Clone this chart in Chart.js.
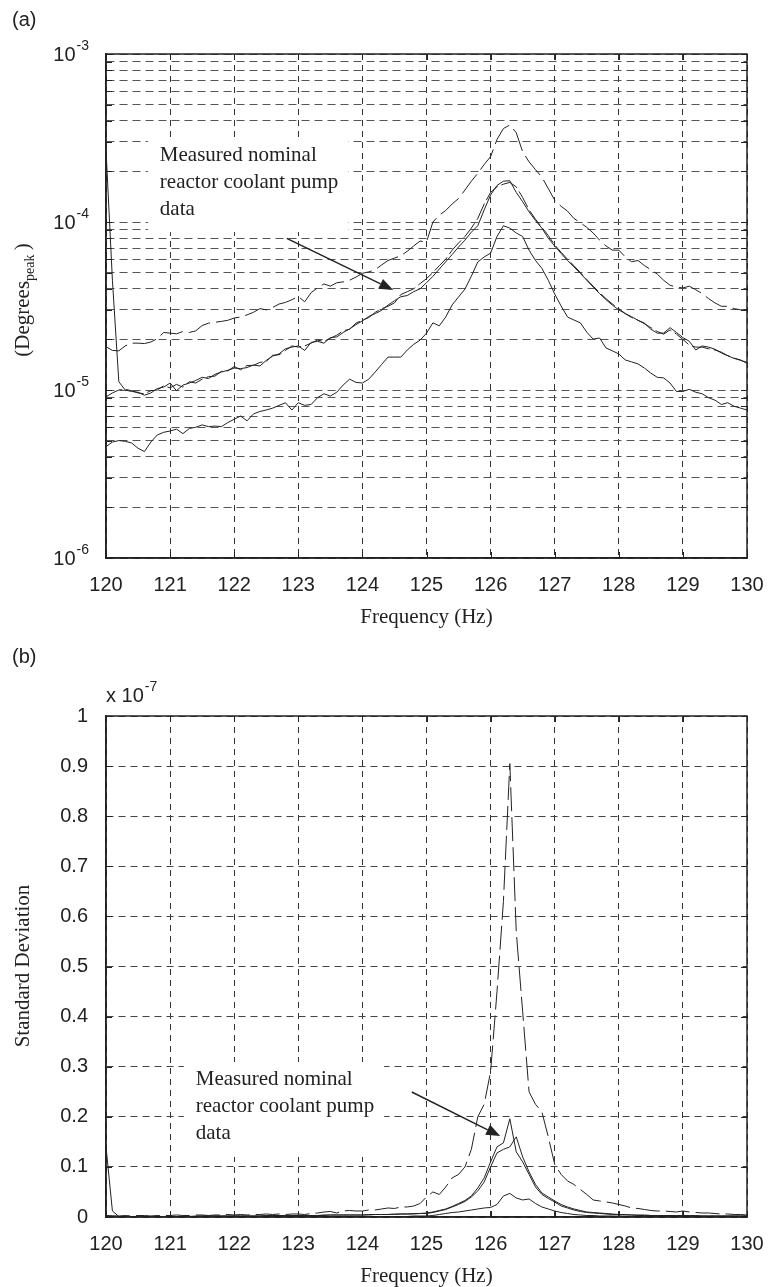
<!DOCTYPE html>
<html>
<head>
<meta charset="utf-8">
<script src="https://cdn.jsdelivr.net/npm/chart.js"></script>
<style>
  body { margin: 0; background: #fff; }
  #wrap { position: relative; width: 768px; height: 1287px; }
  canvas { position: absolute; left: 0; }
</style>
</head>
<body>
<div id="wrap">
  <canvas id="chartA" width="768" height="640" style="top:0"></canvas>
  <canvas id="chartB" width="768" height="647" style="top:640px"></canvas>
</div>
<script>
// frequency samples (Hz)
const freq = [
  120.0, 120.1, 120.2, 120.3, 120.4, 120.5, 120.6, 120.7, 120.8, 120.9,
  121.0, 121.1, 121.2, 121.3, 121.4, 121.5, 121.6, 121.7, 121.8, 121.9,
  122.0, 122.1, 122.2, 122.3, 122.4, 122.5, 122.6, 122.7, 122.8, 122.9,
  123.0, 123.1, 123.2, 123.3, 123.4, 123.5, 123.6, 123.7, 123.8, 123.9,
  124.0, 124.1, 124.2, 124.3, 124.4, 124.5, 124.6, 124.7, 124.8, 124.9,
  125.0, 125.1, 125.2, 125.3, 125.4, 125.5, 125.6, 125.7, 125.8, 125.9,
  126.0, 126.1, 126.2, 126.3, 126.4, 126.5, 126.6, 126.7, 126.8, 126.9,
  127.0, 127.1, 127.2, 127.3, 127.4, 127.5, 127.6, 127.7, 127.8, 127.9,
  128.0, 128.1, 128.2, 128.3, 128.4, 128.5, 128.6, 128.7, 128.8, 128.9,
  129.0, 129.1, 129.2, 129.3, 129.4, 129.5, 129.6, 129.7, 129.8, 129.9,
  130.0
];

// (a) amplitude, in micro-degrees peak
const ampDashed = [
  18.1, 17.2, 17.1, 18.3, 19.0, 19.0, 18.9, 19.3, 20.2, 22.0,
  21.8, 21.6, 22.3, 22.0, 22.5, 24.2, 25.0, 25.3, 25.6, 26.0,
  26.8, 27.2, 28.0, 29.0, 30.5, 30.0, 31.0, 32.5, 33.2, 34.5,
  36.0, 33.5, 38.0, 40.5, 42.8, 41.5, 43.5, 44.0, 45.0, 47.0,
  49.5, 50.5, 52.0, 55.5, 59.0, 61.0, 63.0, 67.0, 72.0, 77.0,
  76.0, 100, 110, 117, 128, 138, 155, 175, 195, 220,
  245, 310, 360, 378, 340, 262, 228, 205, 185, 158,
  135, 124, 116, 105, 99, 93, 86, 78, 72, 68,
  68, 62, 58, 59, 55, 52, 49, 45, 42, 41,
  40.5, 41.5, 39.5, 37.5, 35, 33, 31.5, 31.5, 30.5, 30,
  30
];
const ampMeasured = [
  270, 45, 11.2, 10.0, 9.8, 9.7, 9.3, 9.6, 10.2, 10.4,
  11.0, 9.9, 10.7, 11.0, 11.4, 11.9, 11.7, 12.4, 12.8, 13.1,
  13.5, 13.4, 13.6, 14.1, 13.9, 15.0, 15.9, 16.4, 17.6, 18.0,
  18.3, 17.2, 19.2, 19.5, 19.0, 20.5, 20.7, 22.0, 23.1, 24.5,
  25.8, 27.4, 28.5, 29.8, 32.0, 34.0, 35.9, 36.5, 38.5, 40.0,
  43.5, 47.5, 52.5, 58, 64, 71, 78, 87, 95, 118,
  145, 165, 175, 176, 150, 132, 115, 102, 92, 80,
  72, 65, 59, 54, 49.5, 45, 41, 37.5, 34.5, 32,
  30, 28.5, 27.3, 26.0, 25, 23.0, 21.8, 21.8, 23.5, 22.0,
  20.5, 19.5, 17.3, 18.3, 18.0, 17.5, 16.6, 16.0, 15.4, 15.1,
  14.4
];
const ampModel = [
  9.1, 9.6, 10.0, 10.1, 9.9, 9.6, 9.5, 9.9, 10.0, 10.6,
  10.3, 10.8, 10.4, 11.2, 11.0, 11.6, 12.0, 12.1, 12.9, 13.0,
  13.8, 13.2, 14.0, 14.0, 14.6, 14.8, 16.1, 16.2, 17.2, 18.3,
  18.0, 18.3, 19.0, 19.8, 19.5, 20.3, 21.2, 22.5, 23.0, 25.0,
  26.0, 27.0, 29.0, 30.5, 31.5, 33.0, 37.0, 38.5, 40.0, 43.0,
  46.0, 50.0, 55.0, 60.0, 68.0, 75.0, 82.0, 92.0, 105, 128,
  150, 162, 168, 172, 162, 140, 118, 104, 93, 83,
  73, 66, 60, 55, 50, 45.5, 41.5, 38.0, 35.0, 32.5,
  30.5, 28.5, 27.0, 26.0, 24.8, 23.5, 22.3, 21.5, 22.8, 21.5,
  20.0, 18.5, 18.0, 18.0, 17.6, 17.3, 16.8, 16.0, 15.5, 15.0,
  14.6
];
const ampLow = [
  4.6, 4.9, 5.0, 4.95, 4.84, 4.5, 4.3, 4.9, 5.4, 5.6,
  5.7, 5.85, 5.5, 5.9, 6.0, 6.2, 6.05, 6.1, 6.05, 6.4,
  6.7, 7.0, 6.55, 7.2, 7.45, 7.6, 7.8, 8.1, 8.4, 7.6,
  8.4, 8.1, 8.2, 9.0, 9.5, 9.2, 9.7, 10.7, 11.6, 11.1,
  11.0, 11.6, 12.8, 14.2, 15.7, 15.7, 15.7, 17.3, 18.7, 19.8,
  21.8, 25.1, 24.1, 27.2, 32.1, 35.8, 39.9, 47.6, 57.8, 61.9,
  65.3, 82, 95, 92, 86, 82, 68, 59, 53, 45,
  37.3, 31.6, 27.2, 26.1, 25.1, 22.1, 20.1, 20.4, 17.8, 17.1,
  16.4, 15.1, 14.7, 14.3, 13.5, 12.6, 11.9, 11.8, 11.0, 9.8,
  9.8, 10.1, 9.7, 9.5, 9.0, 8.7, 8.2, 8.4, 8.0, 7.8,
  7.6
];

// (b) standard deviation, in units of 1e-7
const sdDashed = [
  0.003, 0.002, 0.002, 0.003, 0.002, 0.003, 0.003, 0.002, 0.003, 0.003,
  0.003, 0.004, 0.003, 0.003, 0.004, 0.004, 0.003, 0.004, 0.004, 0.005,
  0.004, 0.005, 0.004, 0.005, 0.005, 0.006, 0.005, 0.006, 0.005, 0.006,
  0.006, 0.005, 0.007, 0.008, 0.010, 0.011, 0.008, 0.012, 0.013, 0.012,
  0.012, 0.014, 0.014, 0.016, 0.018, 0.017, 0.020, 0.020, 0.022, 0.027,
  0.040, 0.050, 0.045, 0.060, 0.078, 0.085, 0.100, 0.135, 0.200, 0.225,
  0.290, 0.450, 0.630, 0.905, 0.570, 0.410, 0.250, 0.225, 0.210, 0.160,
  0.105, 0.085, 0.072, 0.065, 0.055, 0.045, 0.034, 0.032, 0.030, 0.028,
  0.025, 0.022, 0.018, 0.017, 0.015, 0.013, 0.012, 0.012, 0.011, 0.010,
  0.012, 0.010, 0.009, 0.008, 0.008, 0.007, 0.006, 0.006, 0.005, 0.005,
  0.004
];
const sdMeasured = [
  0.140, 0.012, 0.001, 0.001, 0.001, 0.001, 0.001, 0.001, 0.001, 0.001,
  0.001, 0.001, 0.001, 0.001, 0.002, 0.002, 0.002, 0.002, 0.002, 0.002,
  0.002, 0.002, 0.002, 0.002, 0.002, 0.002, 0.003, 0.003, 0.003, 0.003,
  0.003, 0.003, 0.003, 0.003, 0.003, 0.004, 0.004, 0.004, 0.004, 0.004,
  0.004, 0.005, 0.005, 0.005, 0.005, 0.006, 0.006, 0.006, 0.007, 0.007,
  0.008, 0.010, 0.013, 0.016, 0.021, 0.027, 0.033, 0.042, 0.058, 0.078,
  0.110, 0.140, 0.148, 0.196, 0.130, 0.110, 0.085, 0.060, 0.045, 0.037,
  0.030, 0.022, 0.018, 0.014, 0.011, 0.009, 0.008, 0.007, 0.006, 0.005,
  0.004, 0.004, 0.004, 0.003, 0.003, 0.003, 0.003, 0.003, 0.003, 0.002,
  0.002, 0.002, 0.002, 0.002, 0.002, 0.002, 0.002, 0.002, 0.002, 0.002,
  0.002
];
const sdModel = [
  0.002, 0.002, 0.001, 0.001, 0.001, 0.001, 0.001, 0.001, 0.001, 0.001,
  0.001, 0.001, 0.001, 0.001, 0.001, 0.002, 0.002, 0.002, 0.002, 0.002,
  0.002, 0.002, 0.002, 0.002, 0.002, 0.003, 0.003, 0.003, 0.003, 0.003,
  0.003, 0.003, 0.003, 0.003, 0.004, 0.004, 0.004, 0.004, 0.004, 0.004,
  0.004, 0.004, 0.005, 0.005, 0.005, 0.005, 0.006, 0.006, 0.006, 0.007,
  0.007, 0.009, 0.012, 0.015, 0.020, 0.025, 0.031, 0.040, 0.052, 0.070,
  0.100, 0.128, 0.135, 0.140, 0.160, 0.120, 0.090, 0.065, 0.048, 0.040,
  0.032, 0.025, 0.020, 0.016, 0.013, 0.010, 0.009, 0.008, 0.007, 0.006,
  0.005, 0.005, 0.004, 0.004, 0.004, 0.003, 0.003, 0.003, 0.003, 0.003,
  0.003, 0.003, 0.003, 0.002, 0.002, 0.002, 0.002, 0.002, 0.002, 0.002,
  0.002
];
const sdLow = [
  0.001, 0.001, 0.001, 0.001, 0.001, 0.001, 0.001, 0.001, 0.001, 0.001,
  0.001, 0.001, 0.001, 0.001, 0.001, 0.001, 0.001, 0.001, 0.001, 0.001,
  0.001, 0.001, 0.001, 0.001, 0.001, 0.001, 0.001, 0.001, 0.001, 0.001,
  0.001, 0.001, 0.001, 0.001, 0.001, 0.001, 0.001, 0.001, 0.001, 0.001,
  0.001, 0.001, 0.001, 0.001, 0.001, 0.001, 0.001, 0.001, 0.002, 0.002,
  0.002, 0.003, 0.005, 0.007, 0.009, 0.010, 0.012, 0.014, 0.016, 0.018,
  0.019, 0.025, 0.042, 0.047, 0.038, 0.034, 0.036, 0.027, 0.020, 0.016,
  0.012, 0.009, 0.007, 0.005, 0.004, 0.003, 0.003, 0.002, 0.002, 0.002,
  0.001, 0.001, 0.001, 0.001, 0.001, 0.001, 0.001, 0.001, 0.001, 0.001,
  0.001, 0.001, 0.001, 0.001, 0.001, 0.001, 0.001, 0.001, 0.001, 0.001,
  0.001
];

// axis ticks
const freqTicks = [120, 121, 122, 123, 124, 125, 126, 127, 128, 129, 130];
const freqTickLabels = ['120', '121', '122', '123', '124', '125', '126', '127', '128', '129', '130'];
const decadeExps = [-6, -5, -4, -3];
const mantissas = [1, 2, 3, 4, 5, 6, 7, 8, 9];
const sdTicks = [0, 0.1, 0.2, 0.3, 0.4, 0.5, 0.6, 0.7, 0.8, 0.9, 1];
const sdTickLabels = ['0', '0.1', '0.2', '0.3', '0.4', '0.5', '0.6', '0.7', '0.8', '0.9', '1'];

const noteLines = ['Measured nominal', 'reactor coolant pump', 'data'];

const SANS = '"Liberation Sans", Arial, sans-serif';
const SERIF = '"Liberation Serif", "Times New Roman", serif';
const INK = '#222';

const logTicks = [];
decadeExps.forEach(e => mantissas.forEach(m => {
  if (e < -3 || m === 1) logTicks.push(m * Math.pow(10, e));
}));

function series(vals, scale) {
  return freq.map((f, i) => ({ x: f, y: vals[i] * scale }));
}

function lineSet(vals, scale, dash) {
  return {
    data: series(vals, scale),
    borderColor: INK,
    borderWidth: 1,
    borderDash: dash,
    pointRadius: 0,
    tension: 0,
    fill: false
  };
}

// number with a raised exponent, e.g. 10^-3
function drawPower(ctx, x, y, base, exp, align) {
  ctx.save();
  ctx.fillStyle = INK;
  ctx.textBaseline = 'middle';
  ctx.textAlign = 'left';
  ctx.font = '20px ' + SANS;
  const bw = ctx.measureText(base).width;
  ctx.font = '14px ' + SANS;
  const ew = ctx.measureText(exp).width;
  const left = align === 'right' ? x - bw - ew : x;
  ctx.font = '20px ' + SANS;
  ctx.fillText(base, left, y + 1);
  ctx.font = '14px ' + SANS;
  ctx.fillText(exp, left + bw + 1, y - 8);
  ctx.restore();
}

function drawRotated(ctx, cx, cy, parts) {
  ctx.save();
  ctx.translate(cx, cy);
  ctx.rotate(-Math.PI / 2);
  ctx.fillStyle = INK;
  ctx.textBaseline = 'alphabetic';
  ctx.textAlign = 'left';
  let total = 0;
  const widths = parts.map(p => { ctx.font = p.font; const w = ctx.measureText(p.text).width; total += w; return w; });
  let x = -total / 2;
  parts.forEach((p, i) => { ctx.font = p.font; ctx.fillText(p.text, x, p.dy); x += widths[i]; });
  ctx.restore();
}

function makeDecor(cfg) {
  return {
    id: 'decor',
    beforeDatasetsDraw(chart) {
      // white panel behind the note hides the grid there
      const { ctx, scales } = chart;
      const left = scales.x.getPixelForValue(cfg.noteAt[0]);
      const mid = scales.y.getPixelForValue(cfg.noteAt[1]);
      ctx.save();
      ctx.font = '21px ' + SERIF;
      const w = Math.max(...noteLines.map(t => ctx.measureText(t).width));
      ctx.fillStyle = '#fff';
      ctx.fillRect(left - 12, mid - 18, w + 22, noteLines.length * 27 + 14);
      ctx.restore();
    },
    afterDraw(chart) {
      const { ctx, chartArea: a, scales } = chart;
      ctx.save();
      // solid box and inward tick marks
      ctx.strokeStyle = INK;
      ctx.lineWidth = 1;
      ctx.beginPath();
      scales.x.ticks.forEach(t => {
        const px = Math.round(scales.x.getPixelForValue(t.value)) + 0.5;
        ctx.moveTo(px, a.bottom); ctx.lineTo(px, a.bottom - 6);
        ctx.moveTo(px, a.top); ctx.lineTo(px, a.top + 6);
      });
      scales.y.ticks.forEach(t => {
        const py = Math.round(scales.y.getPixelForValue(t.value)) + 0.5;
        ctx.moveTo(a.left, py); ctx.lineTo(a.left + 6, py);
        ctx.moveTo(a.right, py); ctx.lineTo(a.right - 6, py);
      });
      ctx.stroke();
      ctx.lineWidth = 1.5;
      ctx.strokeRect(a.left, a.top, a.right - a.left, a.bottom - a.top);

      // log decade labels
      if (cfg.logLabels) {
        decadeExps.forEach(e => {
          const py = scales.y.getPixelForValue(Math.pow(10, e));
          drawPower(ctx, a.left - 18, py, '10', String(e), 'right');
        });
      }
      if (cfg.exponent) {
        drawPower(ctx, a.left, a.top - 21, 'x 10', cfg.exponent, 'left');
      }

      // panel letter
      ctx.fillStyle = INK;
      ctx.font = '20px ' + SANS;
      ctx.textAlign = 'left';
      ctx.textBaseline = 'middle';
      ctx.fillText(cfg.letter, 12, cfg.letterY);

      // axis titles
      ctx.font = '21px ' + SERIF;
      ctx.textAlign = 'center';
      ctx.fillText('Frequency (Hz)', (a.left + a.right) / 2, a.bottom + 59);
      drawRotated(ctx, 22, cfg.yTitleY, cfg.yTitle);

      // note and arrow
      const nx = scales.x.getPixelForValue(cfg.noteAt[0]);
      const ny = scales.y.getPixelForValue(cfg.noteAt[1]);
      ctx.font = '21px ' + SERIF;
      ctx.textAlign = 'left';
      noteLines.forEach((t, i) => ctx.fillText(t, nx, ny + i * 27));

      const x0 = scales.x.getPixelForValue(cfg.arrowFrom[0]);
      const y0 = scales.y.getPixelForValue(cfg.arrowFrom[1]);
      const x1 = scales.x.getPixelForValue(cfg.arrowTo[0]);
      const y1 = scales.y.getPixelForValue(cfg.arrowTo[1]);
      const ang = Math.atan2(y1 - y0, x1 - x0);
      const hl = 14, hw = 5.5;
      const bx = x1 - hl * Math.cos(ang), by = y1 - hl * Math.sin(ang);
      ctx.strokeStyle = INK;
      ctx.lineWidth = 1.4;
      ctx.beginPath();
      ctx.moveTo(x0, y0);
      ctx.lineTo(bx, by);
      ctx.stroke();
      ctx.beginPath();
      ctx.moveTo(x1, y1);
      ctx.lineTo(bx + hw * Math.sin(ang), by - hw * Math.cos(ang));
      ctx.lineTo(bx - hw * Math.sin(ang), by + hw * Math.cos(ang));
      ctx.closePath();
      ctx.fill();
      ctx.restore();
    }
  };
}

function freqAxis(height) {
  return {
    type: 'linear',
    min: 120,
    max: 130,
    afterBuildTicks: s => { s.ticks = freqTicks.map(v => ({ value: v })); },
    afterFit: s => {
      s.height = height;
      // end labels may overhang; the layout padding already leaves room
      s.paddingLeft = 0;
      s.paddingRight = 0;
    },
    ticks: {
      callback: (v, i) => freqTickLabels[i],
      font: { family: SANS, size: 20 },
      color: INK,
      padding: 15,
      maxRotation: 0,
      autoSkip: false
    },
    grid: { color: '#333', lineWidth: 1, drawTicks: false },
    border: { dash: [6, 5], color: INK, width: 1.5 }
  };
}

Chart.defaults.font.family = SANS;

new Chart(document.getElementById('chartA'), {
  type: 'line',
  data: {
    datasets: [
      lineSet(ampDashed, 1e-6, [24, 6]),
      lineSet(ampMeasured, 1e-6, []),
      lineSet(ampModel, 1e-6, [18, 4]),
      lineSet(ampLow, 1e-6, [])
    ]
  },
  options: {
    responsive: false,
    devicePixelRatio: 1,
    animation: false,
    layout: { padding: { top: 54, right: 21, left: 0, bottom: 0 } },
    plugins: { legend: { display: false }, tooltip: { enabled: false } },
    scales: {
      x: freqAxis(82),
      y: {
        type: 'logarithmic',
        min: 1e-6,
        max: 1e-3,
        afterBuildTicks: s => { s.ticks = logTicks.map(v => ({ value: v })); },
        afterFit: s => { s.width = 106; },
        ticks: { display: false },
        grid: { color: '#555', lineWidth: 1, drawTicks: false },
        border: { dash: [8, 5], color: INK, width: 1.5 }
      }
    }
  },
  plugins: [makeDecor({
    letter: '(a)',
    letterY: 20,
    logLabels: true,
    yTitleY: 300,
    yTitle: [
      { text: '(Degrees', font: '21px ' + SERIF, dy: 7 },
      { text: 'peak', font: '14px ' + SERIF, dy: 12 },
      { text: '\u2009)', font: '21px ' + SERIF, dy: 7 }
    ],
    noteAt: [120.84, 2.5e-4],
    arrowFrom: [122.82, 8.0e-5],
    arrowTo: [124.48, 3.94e-5]
  })]
});

new Chart(document.getElementById('chartB'), {
  type: 'line',
  data: {
    datasets: [
      lineSet(sdDashed, 1, [24, 6]),
      lineSet(sdMeasured, 1, []),
      lineSet(sdModel, 1, []),
      lineSet(sdLow, 1, [])
    ]
  },
  options: {
    responsive: false,
    devicePixelRatio: 1,
    animation: false,
    layout: { padding: { top: 76, right: 21, left: 0, bottom: 0 } },
    plugins: { legend: { display: false }, tooltip: { enabled: false } },
    scales: {
      x: freqAxis(70),
      y: {
        type: 'linear',
        min: 0,
        max: 1,
        afterBuildTicks: s => { s.ticks = sdTicks.map(v => ({ value: v })); },
        afterFit: s => { s.width = 106; },
        ticks: {
          callback: (v, i) => sdTickLabels[i],
          font: { family: SANS, size: 20 },
          color: INK,
          padding: 18
        },
        grid: { color: '#444', lineWidth: 1, drawTicks: false },
        border: { dash: [7, 5], color: INK, width: 1.5 }
      }
    }
  },
  plugins: [makeDecor({
    letter: '(b)',
    letterY: 17,
    exponent: '-7',
    yTitleY: 326,
    yTitle: [
      { text: 'Standard Deviation', font: '21px ' + SERIF, dy: 7 }
    ],
    noteAt: [121.4, 0.2735],
    arrowFrom: [124.77, 0.2495],
    arrowTo: [126.15, 0.1617]
  })]
});
</script>
</body>
</html>
